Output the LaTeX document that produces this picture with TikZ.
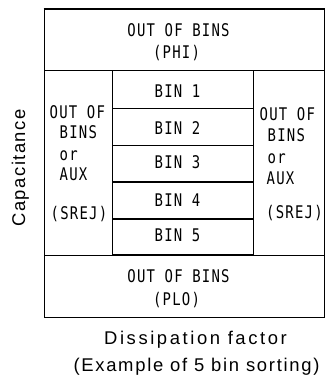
\documentclass[tikz,border=0pt]{standalone}
\usepackage{fontspec}
\setmainfont{Liberation Sans}
\newfontfamily\boxfont[FakeStretch=0.8,LetterSpace=7]{DejaVu Sans Mono}
\newfontfamily\labfont{Liberation Sans}
\tikzset{
  boxtxt/.style={font=\boxfont\fontsize{17.5}{17.5}\selectfont, inner sep=0pt, anchor=base},
  boxtxtw/.style={boxtxt, anchor=base west},
  labtxt/.style={font=\labfont\fontsize{18.5}{18.5}\selectfont, inner sep=0pt, anchor=base},
  cellline/.style={draw=black, line width=0.9bp},
  boldline/.style={draw=black, line width=1.8bp},
  midline/.style={draw=black, line width=1.3bp},
}
\begin{document}
\begin{tikzpicture}[x=1bp,y=-1bp]
\useasboundingbox (0,0) rectangle (328,377);
% frame
\draw[cellline] (44,8.7) rectangle (324.5,317);
\draw[boldline] (43.5,8.7) -- (325,8.7);
\draw[midline] (44,70.5) -- (324.5,70.5);
\draw[cellline] (44,255) -- (324.5,255);
% middle column
\draw[cellline] (112.5,70.5) -- (112.5,255);
\draw[cellline] (253,70.5) -- (253,255);
\draw[cellline] (112.5,108) -- (253,108);
\draw[cellline] (112.5,145) -- (253,145);
\draw[midline] (112.5,182) -- (253,182);
\draw[midline] (112.5,219) -- (253,219);
\draw[boldline] (112.5,254.5) -- (253,254.5);
% top
\node[boxtxt] (phia) at (178.5,36) {OUT OF BINS};
\node[boxtxt] (phib) at (176.5,58) {(PHI)};
% bins
\node[boxtxt] (bin1) at (177.5,97.3) {BIN 1};
\node[boxtxt] (bin2) at (177.5,134) {BIN 2};
\node[boxtxt] (bin3) at (177.5,168.5) {BIN 3};
\node[boxtxt] (bin4) at (177.5,206.7) {BIN 4};
\node[boxtxt] (bin5) at (177.5,241.7) {BIN 5};
% bottom
\node[boxtxt] (ploa) at (178.5,282) {OUT OF BINS};
\node[boxtxt] (plob) at (176.5,305.5) {(PLO)};
% left column
\node[boxtxtw] (la) at (49.5,118) {OUT OF};
\node[boxtxtw] (lb) at (59.5,138.5) {BINS};
\node[boxtxtw] (lc) at (59.5,160) {or};
\node[boxtxtw] (ld) at (59.5,180.5) {AUX};
\node[boxtxtw] (le) at (50.5,219) {(SREJ)};
% right column
\node[boxtxtw] (ra) at (259.5,120) {OUT OF};
\node[boxtxtw] (rb) at (267.5,141) {BINS};
\node[boxtxtw] (rc) at (267.5,163.3) {or};
\node[boxtxtw] (rd) at (266.5,184.3) {AUX};
\node[boxtxtw] (re) at (266,218) {(SREJ)};
% axis labels
\node[labtxt, rotate=90] (cap) at (25,168) {\addfontfeature{LetterSpace=8}Capacitance};
\node[labtxt] (df) at (195.5,344.5) {\addfontfeature{LetterSpace=14}Dissipation factor};
\node[labtxt] (ex) at (196.5,371.3) {\addfontfeature{LetterSpace=9.3}(Example of 5 bin sorting)};
\end{tikzpicture}
\end{document}
